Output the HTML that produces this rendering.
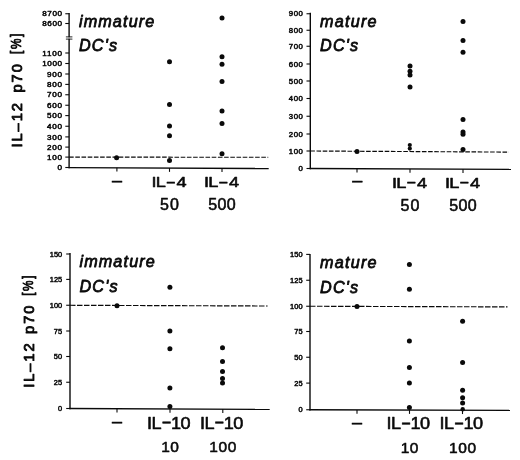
<!DOCTYPE html>
<html lang="en">
<head>
<meta charset="utf-8">
<title>IL-12 p70 production by immature and mature DC's</title>
<style>
html,body{margin:0;padding:0;background:#fff;}
body{width:520px;height:460px;overflow:hidden;}
svg{display:block;}
text{font-family:"Liberation Sans",Arial,Helvetica,sans-serif;fill:#0a0a0a;stroke:#0a0a0a;stroke-linejoin:round;}
.tk{stroke-width:0.5px;}
.xl{stroke-width:0.55px;}
.yl{stroke-width:0.85px;}
.ti{font-style:italic;stroke-width:0.8px;}
</style>
</head>
<body>
<svg width="520" height="460" viewBox="0 0 520 460">
<rect width="520" height="460" fill="#fff"/>
<line x1="69.1" y1="13.0" x2="69.1" y2="168.29999999999998" stroke="#0a0a0a" stroke-width="1.4" />
<line x1="68.5" y1="167.6" x2="268.7" y2="168.5" stroke="#0a0a0a" stroke-width="1.4" />
<line x1="65.3" y1="13.75" x2="69.1" y2="13.75" stroke="#0a0a0a" stroke-width="1.1" />
<text transform="translate(62.0 15.799999999999999) scale(1.1 1)" font-size="7.4" text-anchor="end" textLength="17.97" lengthAdjust="spacing" class="tk">8700</text>
<line x1="65.3" y1="23.5" x2="69.1" y2="23.5" stroke="#0a0a0a" stroke-width="1.1" />
<text transform="translate(62.0 26.15) scale(1.1 1)" font-size="7.4" text-anchor="end" textLength="17.97" lengthAdjust="spacing" class="tk">8600</text>
<line x1="65.3" y1="53.0" x2="69.1" y2="53.0" stroke="#0a0a0a" stroke-width="1.1" />
<text transform="translate(62.0 55.65) scale(1.1 1)" font-size="7.4" text-anchor="end" textLength="17.97" lengthAdjust="spacing" class="tk">1100</text>
<line x1="65.3" y1="63.5" x2="69.1" y2="63.5" stroke="#0a0a0a" stroke-width="1.1" />
<text transform="translate(62.0 66.15) scale(1.1 1)" font-size="7.4" text-anchor="end" textLength="17.97" lengthAdjust="spacing" class="tk">1000</text>
<line x1="65.3" y1="74.0" x2="69.1" y2="74.0" stroke="#0a0a0a" stroke-width="1.1" />
<text transform="translate(62.0 76.65) scale(1.1 1)" font-size="7.4" text-anchor="end" textLength="13.55" lengthAdjust="spacing" class="tk">900</text>
<line x1="65.3" y1="84.4" x2="69.1" y2="84.4" stroke="#0a0a0a" stroke-width="1.1" />
<text transform="translate(62.0 87.05000000000001) scale(1.1 1)" font-size="7.4" text-anchor="end" textLength="13.55" lengthAdjust="spacing" class="tk">800</text>
<line x1="65.3" y1="94.75" x2="69.1" y2="94.75" stroke="#0a0a0a" stroke-width="1.1" />
<text transform="translate(62.0 97.4) scale(1.1 1)" font-size="7.4" text-anchor="end" textLength="13.55" lengthAdjust="spacing" class="tk">700</text>
<line x1="65.3" y1="105.25" x2="69.1" y2="105.25" stroke="#0a0a0a" stroke-width="1.1" />
<text transform="translate(62.0 107.9) scale(1.1 1)" font-size="7.4" text-anchor="end" textLength="13.55" lengthAdjust="spacing" class="tk">600</text>
<line x1="65.3" y1="115.6" x2="69.1" y2="115.6" stroke="#0a0a0a" stroke-width="1.1" />
<text transform="translate(62.0 118.25) scale(1.1 1)" font-size="7.4" text-anchor="end" textLength="13.55" lengthAdjust="spacing" class="tk">500</text>
<line x1="65.3" y1="126.25" x2="69.1" y2="126.25" stroke="#0a0a0a" stroke-width="1.1" />
<text transform="translate(62.0 128.9) scale(1.1 1)" font-size="7.4" text-anchor="end" textLength="13.55" lengthAdjust="spacing" class="tk">400</text>
<line x1="65.3" y1="136.9" x2="69.1" y2="136.9" stroke="#0a0a0a" stroke-width="1.1" />
<text transform="translate(62.0 139.55) scale(1.1 1)" font-size="7.4" text-anchor="end" textLength="13.55" lengthAdjust="spacing" class="tk">300</text>
<line x1="65.3" y1="147.1" x2="69.1" y2="147.1" stroke="#0a0a0a" stroke-width="1.1" />
<text transform="translate(62.0 149.75) scale(1.1 1)" font-size="7.4" text-anchor="end" textLength="13.55" lengthAdjust="spacing" class="tk">200</text>
<line x1="65.3" y1="157.1" x2="69.1" y2="157.1" stroke="#0a0a0a" stroke-width="1.1" />
<text transform="translate(62.0 159.75) scale(1.1 1)" font-size="7.4" text-anchor="end" textLength="13.55" lengthAdjust="spacing" class="tk">100</text>
<line x1="65.3" y1="167.5" x2="69.1" y2="167.5" stroke="#0a0a0a" stroke-width="1.1" />
<text transform="translate(62.0 170.15) scale(1.1 1)" font-size="7.4" text-anchor="end" textLength="4.7" lengthAdjust="spacing" class="tk">0</text>
<line x1="69.1" y1="157.1" x2="268.2" y2="157.3" stroke="#0a0a0a" stroke-width="1.15" stroke-dasharray="4.6 1.6"/>
<line x1="116.9" y1="167.81553106212425" x2="116.9" y2="171.61553106212426" stroke="#0a0a0a" stroke-width="1.1" />
<line x1="169.5" y1="168.05270541082163" x2="169.5" y2="171.85270541082164" stroke="#0a0a0a" stroke-width="1.1" />
<line x1="222" y1="168.28942885771542" x2="222" y2="172.08942885771543" stroke="#0a0a0a" stroke-width="1.1" />
<circle cx="116.6" cy="157.8" r="2.5" fill="#0a0a0a"/>
<circle cx="169.5" cy="61.8" r="2.5" fill="#0a0a0a"/>
<circle cx="169.5" cy="104.4" r="2.5" fill="#0a0a0a"/>
<circle cx="169.5" cy="126" r="2.5" fill="#0a0a0a"/>
<circle cx="169.5" cy="135.8" r="2.5" fill="#0a0a0a"/>
<circle cx="169.5" cy="160.5" r="2.5" fill="#0a0a0a"/>
<circle cx="222" cy="18.1" r="2.5" fill="#0a0a0a"/>
<circle cx="222" cy="56.75" r="2.5" fill="#0a0a0a"/>
<circle cx="222" cy="64.3" r="2.5" fill="#0a0a0a"/>
<circle cx="222" cy="81.6" r="2.5" fill="#0a0a0a"/>
<circle cx="222" cy="110.9" r="2.5" fill="#0a0a0a"/>
<circle cx="222" cy="123.4" r="2.5" fill="#0a0a0a"/>
<circle cx="222" cy="153.8" r="2.5" fill="#0a0a0a"/>
<text x="117.0" y="185.75" font-size="18" text-anchor="middle" class="xl">–</text>
<text transform="scale(1.21 1)" font-size="15.0" class="xl"><tspan x="125.12" y="186.9">I</tspan><tspan x="128.68" y="186.9">L</tspan><tspan x="137.6" y="185.6" font-size="12.87" font-weight="bold">–</tspan><tspan x="145.87" y="186.9">4</tspan></text>
<text transform="scale(1.21 1)" font-size="15.0" class="xl"><tspan x="168.51" y="186.9">I</tspan><tspan x="172.07" y="186.9">L</tspan><tspan x="180.99" y="185.6" font-size="12.87" font-weight="bold">–</tspan><tspan x="189.26" y="186.9">4</tspan></text>
<text x="169.5" y="210.0" font-size="16.0" text-anchor="middle" textLength="18.9" lengthAdjust="spacing" class="xl">50</text>
<text x="222" y="210.0" font-size="16.0" text-anchor="middle" textLength="27.4" lengthAdjust="spacing" class="xl">500</text>
<text transform="translate(78.9 26.7) scale(0.975 1)" font-size="16.6" text-anchor="start" textLength="77.33" lengthAdjust="spacing" class="ti">immature</text>
<text transform="translate(78.9 50.9) scale(0.975 1)" font-size="16.6" text-anchor="start" textLength="39.18" lengthAdjust="spacing" class="ti">DC's</text>
<rect x="67.8" y="37.3" width="2.6" height="1.4" fill="#fff"/>
<line x1="65.9" y1="36.9" x2="72.4" y2="36.9" stroke="#0a0a0a" stroke-width="0.9" />
<line x1="65.9" y1="39.1" x2="72.4" y2="39.1" stroke="#0a0a0a" stroke-width="0.9" />
<g transform="translate(21.7 146.5) rotate(-90)" font-size="14.7"><text x="-1" y="0" textLength="44.4" lengthAdjust="spacing" class="yl">IL–12</text><text x="54.0" y="0" textLength="28.4" lengthAdjust="spacing" class="yl">p70</text><text transform="translate(92.6 -1.2) scale(0.8 1)" textLength="25.3" lengthAdjust="spacing" class="yl">[%]</text></g>
<line x1="310.3" y1="12.7" x2="310.3" y2="169.2" stroke="#0a0a0a" stroke-width="1.4" />
<line x1="309.7" y1="168.5" x2="511" y2="169.4" stroke="#0a0a0a" stroke-width="1.4" />
<line x1="306.5" y1="13.75" x2="310.3" y2="13.75" stroke="#0a0a0a" stroke-width="1.1" />
<text transform="translate(302.9 16.4) scale(1.05 1)" font-size="7.4" text-anchor="end" textLength="13.38" lengthAdjust="spacing" class="tk">900</text>
<line x1="306.5" y1="30.25" x2="310.3" y2="30.25" stroke="#0a0a0a" stroke-width="1.1" />
<text transform="translate(302.9 32.9) scale(1.05 1)" font-size="7.4" text-anchor="end" textLength="13.38" lengthAdjust="spacing" class="tk">800</text>
<line x1="306.5" y1="46.25" x2="310.3" y2="46.25" stroke="#0a0a0a" stroke-width="1.1" />
<text transform="translate(302.9 48.9) scale(1.05 1)" font-size="7.4" text-anchor="end" textLength="13.38" lengthAdjust="spacing" class="tk">700</text>
<line x1="306.5" y1="64.0" x2="310.3" y2="64.0" stroke="#0a0a0a" stroke-width="1.1" />
<text transform="translate(302.9 66.65) scale(1.05 1)" font-size="7.4" text-anchor="end" textLength="13.38" lengthAdjust="spacing" class="tk">600</text>
<line x1="306.5" y1="81.0" x2="310.3" y2="81.0" stroke="#0a0a0a" stroke-width="1.1" />
<text transform="translate(302.9 83.65) scale(1.05 1)" font-size="7.4" text-anchor="end" textLength="13.38" lengthAdjust="spacing" class="tk">500</text>
<line x1="306.5" y1="98.5" x2="310.3" y2="98.5" stroke="#0a0a0a" stroke-width="1.1" />
<text transform="translate(302.9 101.15) scale(1.05 1)" font-size="7.4" text-anchor="end" textLength="13.38" lengthAdjust="spacing" class="tk">400</text>
<line x1="306.5" y1="116.25" x2="310.3" y2="116.25" stroke="#0a0a0a" stroke-width="1.1" />
<text transform="translate(302.9 118.9) scale(1.05 1)" font-size="7.4" text-anchor="end" textLength="13.38" lengthAdjust="spacing" class="tk">300</text>
<line x1="306.5" y1="134.0" x2="310.3" y2="134.0" stroke="#0a0a0a" stroke-width="1.1" />
<text transform="translate(302.9 136.65) scale(1.05 1)" font-size="7.4" text-anchor="end" textLength="13.38" lengthAdjust="spacing" class="tk">200</text>
<line x1="306.5" y1="151.0" x2="310.3" y2="151.0" stroke="#0a0a0a" stroke-width="1.1" />
<text transform="translate(302.9 153.65) scale(1.05 1)" font-size="7.4" text-anchor="end" textLength="13.38" lengthAdjust="spacing" class="tk">100</text>
<line x1="306.5" y1="168.5" x2="310.3" y2="168.5" stroke="#0a0a0a" stroke-width="1.1" />
<text transform="translate(302.9 171.15) scale(1.05 1)" font-size="7.4" text-anchor="end" textLength="4.65" lengthAdjust="spacing" class="tk">0</text>
<line x1="310.3" y1="151.0" x2="508.8" y2="152.1" stroke="#0a0a0a" stroke-width="1.15" stroke-dasharray="4.6 1.6"/>
<line x1="357" y1="168.70941704035874" x2="357" y2="172.50941704035876" stroke="#0a0a0a" stroke-width="1.1" />
<line x1="410" y1="168.94708520179373" x2="410" y2="172.74708520179374" stroke="#0a0a0a" stroke-width="1.1" />
<line x1="463" y1="169.1847533632287" x2="463" y2="172.98475336322872" stroke="#0a0a0a" stroke-width="1.1" />
<circle cx="357" cy="151.5" r="2.5" fill="#0a0a0a"/>
<circle cx="410" cy="65.9" r="2.5" fill="#0a0a0a"/>
<circle cx="410" cy="71.3" r="2.5" fill="#0a0a0a"/>
<circle cx="410" cy="75.0" r="2.5" fill="#0a0a0a"/>
<circle cx="410" cy="86.9" r="2.5" fill="#0a0a0a"/>
<circle cx="409.8" cy="145.0" r="2.1" fill="#0a0a0a"/>
<circle cx="409.8" cy="148.6" r="2.1" fill="#0a0a0a"/>
<circle cx="463.0" cy="21.6" r="2.5" fill="#0a0a0a"/>
<circle cx="463.0" cy="40.4" r="2.5" fill="#0a0a0a"/>
<circle cx="463.0" cy="52.3" r="2.5" fill="#0a0a0a"/>
<circle cx="463.0" cy="119.4" r="2.5" fill="#0a0a0a"/>
<circle cx="463.0" cy="132.0" r="2.5" fill="#0a0a0a"/>
<circle cx="463.0" cy="134.3" r="2.5" fill="#0a0a0a"/>
<circle cx="463.0" cy="149.4" r="2.5" fill="#0a0a0a"/>
<text x="357.15" y="186.45" font-size="18" text-anchor="middle" class="xl">–</text>
<text transform="scale(1.21 1)" font-size="15.0" class="xl"><tspan x="323.88" y="187.7">I</tspan><tspan x="327.44" y="187.7">L</tspan><tspan x="336.36" y="186.4" font-size="12.87" font-weight="bold">–</tspan><tspan x="344.63" y="187.7">4</tspan></text>
<text transform="scale(1.21 1)" font-size="15.0" class="xl"><tspan x="367.69" y="187.7">I</tspan><tspan x="371.24" y="187.7">L</tspan><tspan x="380.17" y="186.4" font-size="12.87" font-weight="bold">–</tspan><tspan x="388.43" y="187.7">4</tspan></text>
<text x="410" y="210.5" font-size="16.0" text-anchor="middle" textLength="18.9" lengthAdjust="spacing" class="xl">50</text>
<text x="463" y="210.5" font-size="16.0" text-anchor="middle" textLength="27.4" lengthAdjust="spacing" class="xl">500</text>
<text transform="translate(320 27.0) scale(0.975 1)" font-size="16.6" text-anchor="start" textLength="58.05" lengthAdjust="spacing" class="ti">mature</text>
<text transform="translate(320 51.0) scale(0.975 1)" font-size="16.6" text-anchor="start" textLength="39.18" lengthAdjust="spacing" class="ti">DC's</text>
<line x1="70.0" y1="253.1" x2="70.0" y2="409.2" stroke="#0a0a0a" stroke-width="1.4" />
<line x1="69.4" y1="408.5" x2="269.7" y2="409.4" stroke="#0a0a0a" stroke-width="1.4" />
<line x1="66.2" y1="254.0" x2="70.0" y2="254.0" stroke="#0a0a0a" stroke-width="1.1" />
<text x="62.2" y="256.65" font-size="7.4" text-anchor="end" textLength="12.5" lengthAdjust="spacing" class="tk">150</text>
<line x1="66.2" y1="279.4" x2="70.0" y2="279.4" stroke="#0a0a0a" stroke-width="1.1" />
<text x="62.2" y="282.04999999999995" font-size="7.4" text-anchor="end" textLength="12.5" lengthAdjust="spacing" class="tk">125</text>
<line x1="66.2" y1="305.25" x2="70.0" y2="305.25" stroke="#0a0a0a" stroke-width="1.1" />
<text x="62.2" y="307.9" font-size="7.4" text-anchor="end" textLength="12.5" lengthAdjust="spacing" class="tk">100</text>
<line x1="66.2" y1="331.0" x2="70.0" y2="331.0" stroke="#0a0a0a" stroke-width="1.1" />
<text x="62.2" y="333.65" font-size="7.4" text-anchor="end" textLength="8.43" lengthAdjust="spacing" class="tk">75</text>
<line x1="66.2" y1="356.5" x2="70.0" y2="356.5" stroke="#0a0a0a" stroke-width="1.1" />
<text x="62.2" y="359.15" font-size="7.4" text-anchor="end" textLength="8.43" lengthAdjust="spacing" class="tk">50</text>
<line x1="66.2" y1="382.25" x2="70.0" y2="382.25" stroke="#0a0a0a" stroke-width="1.1" />
<text x="62.2" y="384.9" font-size="7.4" text-anchor="end" textLength="8.43" lengthAdjust="spacing" class="tk">25</text>
<line x1="66.2" y1="408.5" x2="70.0" y2="408.5" stroke="#0a0a0a" stroke-width="1.1" />
<text x="62.2" y="411.15" font-size="7.4" text-anchor="end" textLength="4.37" lengthAdjust="spacing" class="tk">0</text>
<line x1="70.0" y1="305.3" x2="267.6" y2="306.0" stroke="#0a0a0a" stroke-width="1.15" stroke-dasharray="5.5 1.5"/>
<line x1="117" y1="408.71181772658986" x2="117" y2="412.51181772658987" stroke="#0a0a0a" stroke-width="1.1" />
<line x1="170" y1="408.95067601402104" x2="170" y2="412.75067601402105" stroke="#0a0a0a" stroke-width="1.1" />
<line x1="222.8" y1="409.1886329494241" x2="222.8" y2="412.98863294942413" stroke="#0a0a0a" stroke-width="1.1" />
<circle cx="117.0" cy="305.7" r="2.5" fill="#0a0a0a"/>
<circle cx="169.9" cy="287.25" r="2.5" fill="#0a0a0a"/>
<circle cx="169.9" cy="331.0" r="2.5" fill="#0a0a0a"/>
<circle cx="169.9" cy="348.7" r="2.5" fill="#0a0a0a"/>
<circle cx="169.9" cy="388.1" r="2.5" fill="#0a0a0a"/>
<circle cx="169.9" cy="406.5" r="2.5" fill="#0a0a0a"/>
<circle cx="222.5" cy="347.75" r="2.5" fill="#0a0a0a"/>
<circle cx="222.5" cy="361.5" r="2.5" fill="#0a0a0a"/>
<circle cx="222.5" cy="371.6" r="2.5" fill="#0a0a0a"/>
<circle cx="222.5" cy="378.6" r="2.5" fill="#0a0a0a"/>
<circle cx="222.5" cy="383.0" r="2.5" fill="#0a0a0a"/>
<text x="117.1" y="427.15" font-size="18" text-anchor="middle" class="xl">–</text>
<text transform="scale(1.12 1)" font-size="16.2" class="xl"><tspan x="131.34" y="428.7">I</tspan><tspan x="135.36" y="428.7">L</tspan><tspan x="144.82" y="427.4" font-size="13.9" font-weight="bold">–</tspan><tspan x="152.59" y="428.7">1</tspan><tspan x="161.16" y="428.7">0</tspan></text>
<text transform="scale(1.12 1)" font-size="16.2" class="xl"><tspan x="178.48" y="428.7">I</tspan><tspan x="182.5" y="428.7">L</tspan><tspan x="191.96" y="427.4" font-size="13.9" font-weight="bold">–</tspan><tspan x="199.73" y="428.7">1</tspan><tspan x="208.3" y="428.7">0</tspan></text>
<text x="170" y="451.9" font-size="15.5" text-anchor="middle" textLength="17.5" lengthAdjust="spacing" class="xl">10</text>
<text x="222.8" y="451.9" font-size="15.5" text-anchor="middle" textLength="27.0" lengthAdjust="spacing" class="xl">100</text>
<text transform="translate(79.4 266.9) scale(0.975 1)" font-size="16.6" text-anchor="start" textLength="77.33" lengthAdjust="spacing" class="ti">immature</text>
<text transform="translate(79.4 292.4) scale(0.975 1)" font-size="16.6" text-anchor="start" textLength="39.18" lengthAdjust="spacing" class="ti">DC's</text>
<g transform="translate(34.0 386.8) rotate(-90)" font-size="14.7"><text x="-1" y="0" textLength="44.4" lengthAdjust="spacing" class="yl">IL–12</text><text x="52.9" y="0" textLength="28.4" lengthAdjust="spacing" class="yl">p70</text><text transform="translate(91.0 -1.2) scale(0.8 1)" textLength="25.3" lengthAdjust="spacing" class="yl">[%]</text></g>
<line x1="310.0" y1="253.9" x2="310.0" y2="410.45" stroke="#0a0a0a" stroke-width="1.4" />
<line x1="309.4" y1="409.75" x2="510" y2="410.4" stroke="#0a0a0a" stroke-width="1.4" />
<line x1="306.2" y1="254.4" x2="310.0" y2="254.4" stroke="#0a0a0a" stroke-width="1.1" />
<text x="302.6" y="257.05" font-size="7.4" text-anchor="end" textLength="12.5" lengthAdjust="spacing" class="tk">150</text>
<line x1="306.2" y1="280.25" x2="310.0" y2="280.25" stroke="#0a0a0a" stroke-width="1.1" />
<text x="302.6" y="282.9" font-size="7.4" text-anchor="end" textLength="12.5" lengthAdjust="spacing" class="tk">125</text>
<line x1="306.2" y1="306.25" x2="310.0" y2="306.25" stroke="#0a0a0a" stroke-width="1.1" />
<text x="302.6" y="308.9" font-size="7.4" text-anchor="end" textLength="12.5" lengthAdjust="spacing" class="tk">100</text>
<line x1="306.2" y1="331.5" x2="310.0" y2="331.5" stroke="#0a0a0a" stroke-width="1.1" />
<text x="302.6" y="334.15" font-size="7.4" text-anchor="end" textLength="8.43" lengthAdjust="spacing" class="tk">75</text>
<line x1="306.2" y1="357.25" x2="310.0" y2="357.25" stroke="#0a0a0a" stroke-width="1.1" />
<text x="302.6" y="359.9" font-size="7.4" text-anchor="end" textLength="8.43" lengthAdjust="spacing" class="tk">50</text>
<line x1="306.2" y1="383.1" x2="310.0" y2="383.1" stroke="#0a0a0a" stroke-width="1.1" />
<text x="302.6" y="385.75" font-size="7.4" text-anchor="end" textLength="8.43" lengthAdjust="spacing" class="tk">25</text>
<line x1="306.2" y1="409.75" x2="310.0" y2="409.75" stroke="#0a0a0a" stroke-width="1.1" />
<text x="302.6" y="412.4" font-size="7.4" text-anchor="end" textLength="4.37" lengthAdjust="spacing" class="tk">0</text>
<line x1="310.0" y1="306.25" x2="507.5" y2="306.9" stroke="#0a0a0a" stroke-width="1.15" stroke-dasharray="5.5 1.5"/>
<line x1="357" y1="409.90274999999997" x2="357" y2="413.70275" stroke="#0a0a0a" stroke-width="1.1" />
<line x1="409.5" y1="410.073375" x2="409.5" y2="413.873375" stroke="#0a0a0a" stroke-width="1.1" />
<line x1="462.5" y1="410.24562499999996" x2="462.5" y2="414.045625" stroke="#0a0a0a" stroke-width="1.1" />
<circle cx="357" cy="306.5" r="2.5" fill="#0a0a0a"/>
<circle cx="409.4" cy="264.6" r="2.5" fill="#0a0a0a"/>
<circle cx="409.4" cy="289.2" r="2.5" fill="#0a0a0a"/>
<circle cx="409.4" cy="340.9" r="2.5" fill="#0a0a0a"/>
<circle cx="409.4" cy="367.5" r="2.5" fill="#0a0a0a"/>
<circle cx="409.4" cy="383" r="2.5" fill="#0a0a0a"/>
<circle cx="409.4" cy="407.4" r="2.5" fill="#0a0a0a"/>
<circle cx="462.6" cy="321.3" r="2.5" fill="#0a0a0a"/>
<circle cx="462.6" cy="362.5" r="2.5" fill="#0a0a0a"/>
<circle cx="462.6" cy="390.3" r="2.5" fill="#0a0a0a"/>
<circle cx="462.6" cy="397.8" r="2.5" fill="#0a0a0a"/>
<circle cx="462.6" cy="402.9" r="2.5" fill="#0a0a0a"/>
<circle cx="462.7" cy="409.3" r="2.2" fill="#0a0a0a"/>
<text x="356.9" y="428.05" font-size="18" text-anchor="middle" class="xl">–</text>
<text transform="scale(1.12 1)" font-size="16.2" class="xl"><tspan x="345.18" y="429.3">I</tspan><tspan x="349.2" y="429.3">L</tspan><tspan x="358.66" y="428.0" font-size="13.9" font-weight="bold">–</tspan><tspan x="366.43" y="429.3">1</tspan><tspan x="375.0" y="429.3">0</tspan></text>
<text transform="scale(1.12 1)" font-size="16.2" class="xl"><tspan x="392.5" y="429.3">I</tspan><tspan x="396.52" y="429.3">L</tspan><tspan x="405.98" y="428.0" font-size="13.9" font-weight="bold">–</tspan><tspan x="413.75" y="429.3">1</tspan><tspan x="422.32" y="429.3">0</tspan></text>
<text x="409.5" y="452.8" font-size="15.5" text-anchor="middle" textLength="17.5" lengthAdjust="spacing" class="xl">10</text>
<text x="462.5" y="452.8" font-size="15.5" text-anchor="middle" textLength="27.0" lengthAdjust="spacing" class="xl">100</text>
<text transform="translate(320 268.1) scale(0.975 1)" font-size="16.6" text-anchor="start" textLength="58.05" lengthAdjust="spacing" class="ti">mature</text>
<text transform="translate(320 292.6) scale(0.975 1)" font-size="16.6" text-anchor="start" textLength="39.18" lengthAdjust="spacing" class="ti">DC's</text>
</svg>
</body>
</html>
